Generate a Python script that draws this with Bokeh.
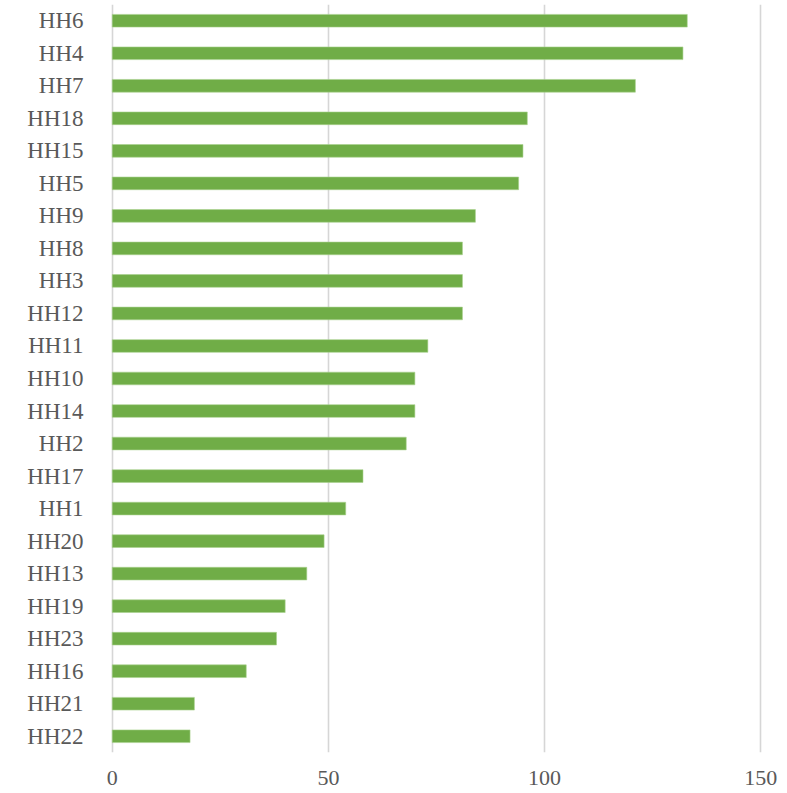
from bokeh.plotting import figure
from bokeh.models import ColumnDataSource, FactorRange, FixedTicker, Range1d
from bokeh.embed import file_html
from bokeh.resources import INLINE

categories = ["HH6", "HH4", "HH7", "HH18", "HH15", "HH5", "HH9", "HH8", "HH3", "HH12",
              "HH11", "HH10", "HH14", "HH2", "HH17", "HH1", "HH20", "HH13", "HH19",
              "HH23", "HH16", "HH21", "HH22"]
values = [133, 132, 121, 96, 95, 94, 84, 81, 81, 81,
          73, 70, 70, 68, 58, 54, 49, 45, 40,
          38, 31, 19, 18]
x_ticks = [0, 50, 100, 150]

source = ColumnDataSource(data=dict(cat=categories, val=values))

p = figure(
    y_range=FactorRange(factors=list(reversed(categories))),
    x_range=Range1d(-0.4, 150.4),
    width=787, height=792,
    output_backend="svg", toolbar_location=None,
    min_border_left=110, min_border_right=25,
    min_border_top=4, min_border_bottom=40,
)
p.hbar(y="cat", right="val", left=0, height=0.39, source=source,
       fill_color="#70AD47", line_color="#A9D18E", line_width=0.6)

p.outline_line_color = None
p.ygrid.grid_line_color = None
p.xgrid.grid_line_color = "#D6D6D6"
p.xgrid.grid_line_width = 1.6
p.xaxis.ticker = FixedTicker(ticks=x_ticks)

for ax in (p.xaxis[0], p.yaxis[0]):
    ax.axis_line_color = None
    ax.major_tick_line_color = None
    ax.minor_tick_line_color = None
    ax.major_label_text_font = "Liberation Serif"
    ax.major_label_text_color = "#595959"

p.yaxis.major_label_text_font_size = "23px"
p.yaxis.major_label_standoff = 21
p.xaxis.major_label_text_font_size = "22px"
p.xaxis.major_label_standoff = 12

open("out.html", "w").write(file_html(p, INLINE))
